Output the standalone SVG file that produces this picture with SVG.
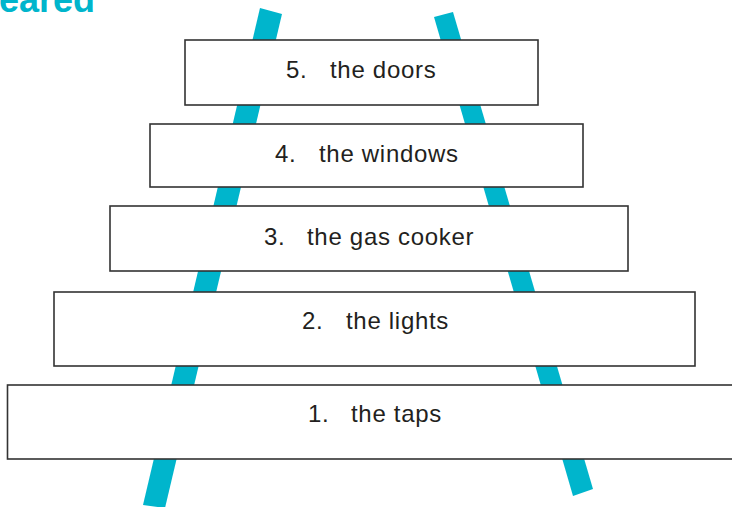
<svg xmlns="http://www.w3.org/2000/svg" width="732" height="507" viewBox="0 0 732 507">
<style>
.bar{fill:#00b5cc}
.box{fill:#fff;stroke:#333;stroke-width:1.6}
.lbl{font-family:"Liberation Sans",Arial,sans-serif;font-size:24px;letter-spacing:0.7px;fill:#231f20}
.title{font-family:"Liberation Sans",Arial,sans-serif;font-size:36px;font-weight:bold;fill:#00b5cc}
</style>
<rect width="732" height="507" fill="#fff"/>
<text class="title" x="-1" y="12">eared</text>
<g id="rails">
<polygon class="bar" points="260,8 282,14 165,508 143,505"/>
<polygon class="bar" points="434,17 453,12 593,489 573,496"/>
</g>
<g id="rung5">
<rect class="box" x="185" y="40" width="353" height="65"/>
<text class="lbl" y="78"><tspan x="286">5.</tspan><tspan x="330">the doors</tspan></text>
</g>
<g id="rung4">
<rect class="box" x="150" y="124" width="433" height="63"/>
<text class="lbl" y="162"><tspan x="275">4.</tspan><tspan x="319">the windows</tspan></text>
</g>
<g id="rung3">
<rect class="box" x="110" y="206" width="518" height="65"/>
<text class="lbl" y="245"><tspan x="264">3.</tspan><tspan x="307">the gas cooker</tspan></text>
</g>
<g id="rung2">
<rect class="box" x="54" y="292" width="641" height="74"/>
<text class="lbl" y="329"><tspan x="302">2.</tspan><tspan x="346">the lights</tspan></text>
</g>
<g id="rung1">
<rect class="box" x="7.5" y="385" width="730" height="74"/>
<text class="lbl" y="422"><tspan x="308">1.</tspan><tspan x="351">the taps</tspan></text>
</g>
</svg>
